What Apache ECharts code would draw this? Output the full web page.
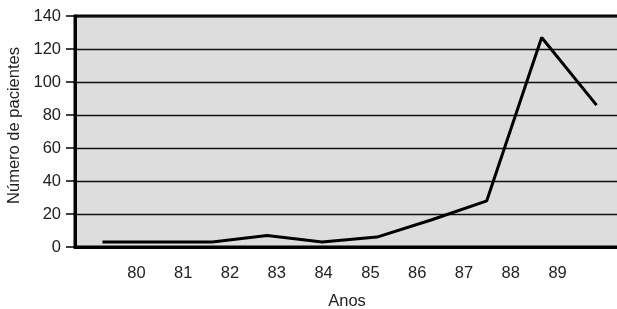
<!DOCTYPE html>
<html>
<head>
<meta charset="utf-8">
<script src="https://cdn.jsdelivr.net/npm/echarts@6/dist/echarts.min.js"></script>
<style>
  html, body { margin: 0; padding: 0; background: #fff; }
  #main { width: 617px; height: 309px; }
</style>
</head>
<body>
<div id="main"></div>
<script>
// anos (categorias) e número de pacientes
var anos = ['80', '81', '82', '83', '84', '85', '86', '87', '88', '89']
var pacientes = [3, 3, 3, 7, 3, 6, 16.5, 28, 127, 86]
var yTicks = { min: 0, max: 140, interval: 20 }

var chart = echarts.init(document.getElementById('main'))
var font = 'Liberation Sans, Arial, sans-serif'

var option = {
  animation: false,
  grid: [
    // área do gráfico (a borda direita fica fora da imagem)
    {
      left: 75, top: 16, width: 549, height: 231,
      outerBoundsMode: 'none', containLabel: false,
      show: true, backgroundColor: '#dddddd',
      borderColor: '#000', borderWidth: 3
    },
    // grade só para os rótulos dos anos
    { left: 113, top: 16, width: 468, height: 231, outerBoundsMode: 'none', containLabel: false }
  ],
  xAxis: [
    {
      type: 'category', gridIndex: 0, data: anos, boundaryGap: true,
      axisLine: { show: true, lineStyle: { color: '#000', width: 3 } },
      axisTick: { show: false },
      axisLabel: { show: false }
    },
    {
      type: 'category', gridIndex: 1, data: anos, boundaryGap: true,
      axisLine: { show: false },
      axisTick: { show: false },
      axisLabel: { color: '#222', fontSize: 16.5, fontFamily: font, margin: 18 },
      name: 'Anos', nameLocation: 'middle', nameGap: 46,
      nameTextStyle: { color: '#222', fontSize: 16.5, fontFamily: font }
    }
  ],
  yAxis: [
    {
      type: 'value', gridIndex: 0,
      min: yTicks.min, max: yTicks.max, interval: yTicks.interval,
      axisLine: { show: true, lineStyle: { color: '#000', width: 3 } },
      axisTick: { show: true, length: 9, lineStyle: { color: '#000', width: 1.5 } },
      axisLabel: { color: '#222', fontSize: 16.5, fontFamily: font, margin: 14 },
      splitLine: { show: true, lineStyle: { color: '#111', width: 1.3 } },
      name: 'Número de pacientes', nameLocation: 'middle', nameGap: 52,
      nameTextStyle: { color: '#222', fontSize: 16.5, fontFamily: font, padding: [0, 0, 0, 12] }
    },
    {
      type: 'value', gridIndex: 1, show: false, min: 0, max: 140
    }
  ],
  series: [
    {
      type: 'line', xAxisIndex: 0, yAxisIndex: 0,
      data: pacientes,
      showSymbol: false,
      lineStyle: { color: '#000', width: 3 }
    }
  ]
}
chart.setOption(option)
</script>
</body>
</html>
